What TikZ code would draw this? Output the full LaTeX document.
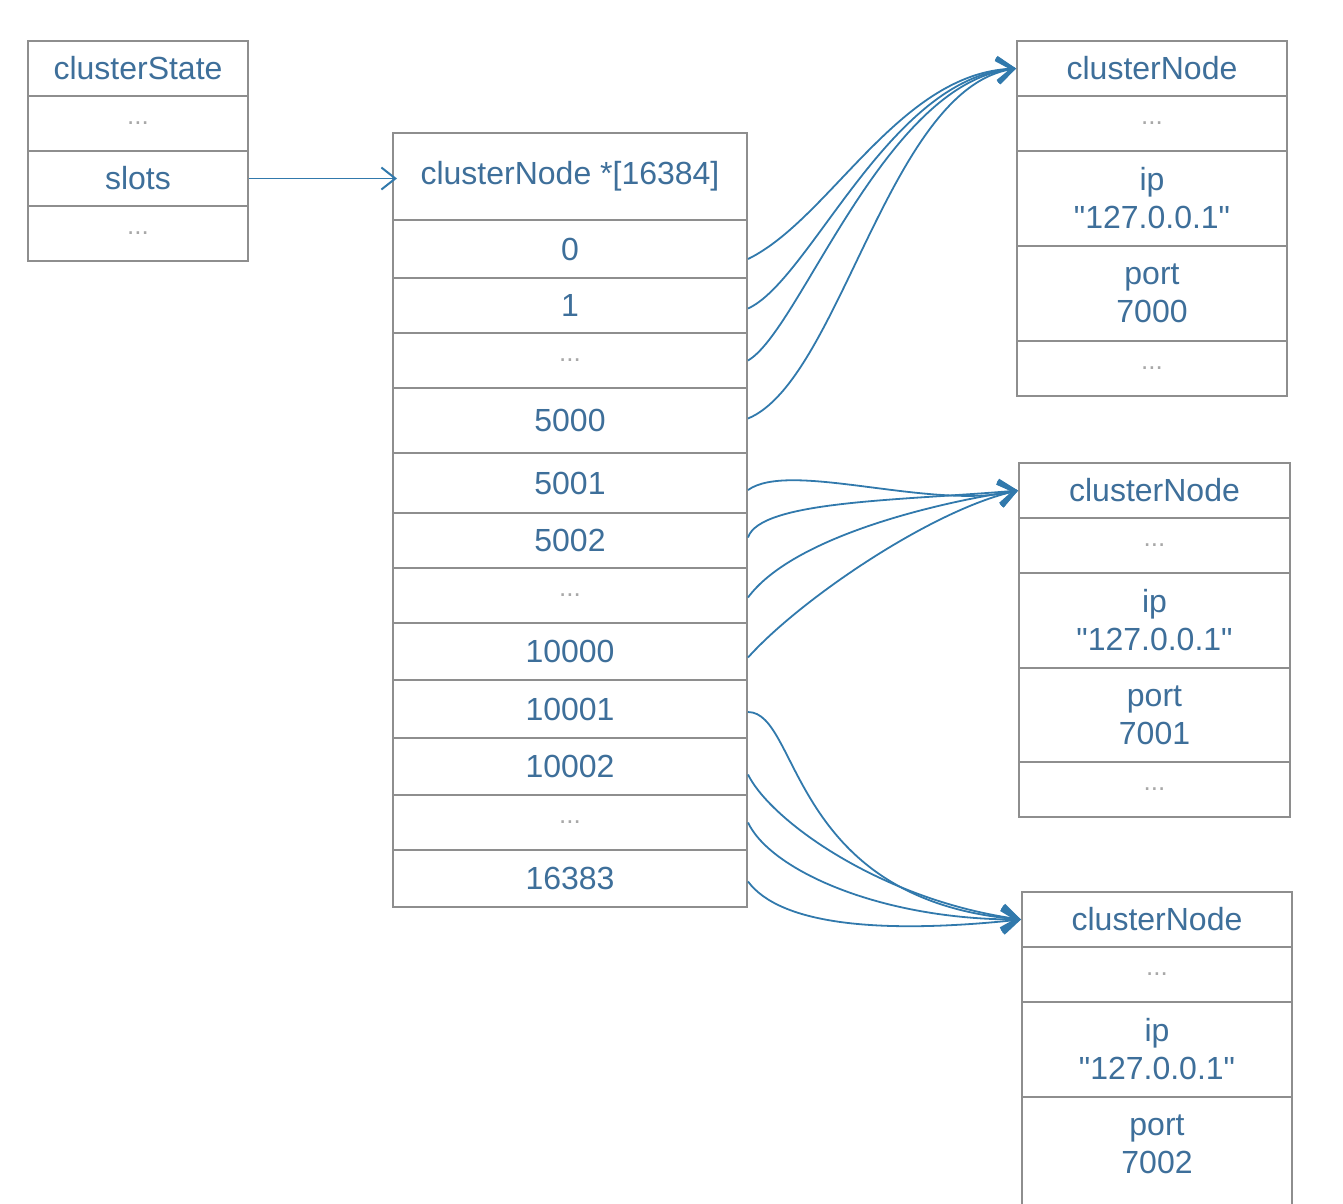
\documentclass[tikz,border=0pt]{standalone}
\usepackage{fontspec}
\setmainfont{Liberation Sans}[Ligatures=TeXOff]
\usetikzlibrary{arrows.meta}
\definecolor{txtblue}{HTML}{3E6F9A}
\definecolor{lnblue}{HTML}{3179AC}
\definecolor{boxgrey}{HTML}{8E8E8E}
\definecolor{dotgrey}{HTML}{A8A8A8}
\newcommand{\qt}{\symbol{34}}
\begin{document}
\begin{tikzpicture}[x=1pt,y=-1pt,
  cell/.style={draw=boxgrey,line width=2pt,fill=white,inner sep=0pt,align=center,
    text=txtblue,font=\fontsize{32}{38}\selectfont},
  dots/.style={cell,text=dotgrey,font=\fontsize{26}{28}\selectfont},
  link/.style={draw=lnblue,line width=1.8pt,-{Straight Barb[length=16pt,width=24pt,line width=3.4pt]}},
  thin/.style={draw=lnblue,line width=1.8pt,-{Straight Barb[length=14pt,width=22pt,line width=2pt]}}]
\useasboundingbox (0,0) rectangle (1343,1203);
% helper: cell from x1,y1 to x2,y2
\newcommand{\mycell}[7]{\node[#1,minimum width={#4-#3},minimum height={#6-#5}] (#2) at ({(#3+#4)/2},{(#5+#6)/2}) {#7};}
% clusterState
\mycell{cell}{cs1}{28}{248}{41}{96}{clusterState}
\mycell{dots}{cs2}{28}{248}{96}{151}{...}
\mycell{cell}{cs3}{28}{248}{151}{206}{slots}
\mycell{dots}{cs4}{28}{248}{206}{261}{...}
% array
\mycell{cell}{a0}{393}{747}{133}{220}{clusterNode *[16384]}
\mycell{cell}{a1}{393}{747}{220}{278}{0}
\mycell{cell}{a2}{393}{747}{278}{333}{1}
\mycell{dots}{a3}{393}{747}{333}{388}{...}
\mycell{cell}{a4}{393}{747}{388}{453}{5000}
\mycell{cell}{a5}{393}{747}{453}{513}{5001}
\mycell{cell}{a6}{393}{747}{513}{568}{5002}
\mycell{dots}{a7}{393}{747}{568}{623}{...}
\mycell{cell}{a8}{393}{747}{623}{680}{10000}
\mycell{cell}{a9}{393}{747}{680}{738}{10001}
\mycell{cell}{a10}{393}{747}{738}{795}{10002}
\mycell{dots}{a11}{393}{747}{795}{850}{...}
\mycell{cell}{a12}{393}{747}{850}{907}{16383}
% clusterNode 1
\mycell{cell}{n1h}{1017}{1287}{41}{96}{clusterNode}
\mycell{dots}{n1a}{1017}{1287}{96}{151}{...}
\mycell{cell}{n1b}{1017}{1287}{151}{246}{ip\\\qt127.0.0.1\qt}
\mycell{cell}{n1c}{1017}{1287}{246}{341}{port\\7000}
\mycell{dots}{n1d}{1017}{1287}{341}{396}{...}
% clusterNode 2
\mycell{cell}{n2h}{1019}{1290}{463}{518}{clusterNode}
\mycell{dots}{n2a}{1019}{1290}{518}{573}{...}
\mycell{cell}{n2b}{1019}{1290}{573}{668}{ip\\\qt127.0.0.1\qt}
\mycell{cell}{n2c}{1019}{1290}{668}{762}{port\\7001}
\mycell{dots}{n2d}{1019}{1290}{762}{817}{...}
% clusterNode 3
\mycell{cell}{n3h}{1022}{1292}{892}{947}{clusterNode}
\mycell{dots}{n3a}{1022}{1292}{947}{1002}{...}
\mycell{cell}{n3b}{1022}{1292}{1002}{1097}{ip\\\qt127.0.0.1\qt}
\node[cell,minimum width=270,minimum height=120] (n3c) at (1157,1157) {};
\node[text=txtblue,font=\fontsize{32}{38}\selectfont,align=center,anchor=north,inner sep=0pt] (n3ct) at (1157,1115) {port\\7002};
% slots arrow
\draw[thin] (cs3.east) -- ([xshift=5pt]cs3.east -| a0.west);
% to node 1
\draw[link] ([yshift=-10pt]a1.east) .. controls +(82,-40) and +(-117,5) .. (n1h.west);
\draw[link] ([yshift=-3pt]a2.east) .. controls +(62,-28) and +(-127,10) .. (n1h.west);
\draw[link] (a3.east) .. controls +(52,-30) and +(-132,15) .. (n1h.west);
\draw[link] ([yshift=2pt]a4.east) .. controls +(92,-38) and +(-127,20) .. (n1h.west);
% to node 2
\draw[link] ([yshift=-7pt]a5.east) .. controls +(42,-30) and +(-87,20) .. (n2h.west);
\draw[link] ([yshift=3pt]a6.east) .. controls +(12,-37) and +(-117,10) .. (n2h.west);
\draw[link] ([yshift=-2pt]a7.east) .. controls +(42,-57) and +(-97,15) .. (n2h.west);
\draw[link] ([yshift=-6pt]a8.east) .. controls +(52,-58) and +(-87,20) .. (n2h.west);
% to node 3
\draw[link] ([yshift=-3pt]a9.east) .. controls +(52,0) and +(-232,-20) .. (n3h.west);
\draw[link] ([yshift=-8pt]a10.east) .. controls +(22,45) and +(-142,-20) .. (n3h.west);
\draw[link] (a11.east) .. controls +(22,47) and +(-142,0) .. (n3h.west);
\draw[link] ([yshift=-3pt]a12.east) .. controls +(32,43) and +(-142,15) .. (n3h.west);
\end{tikzpicture}
\end{document}
